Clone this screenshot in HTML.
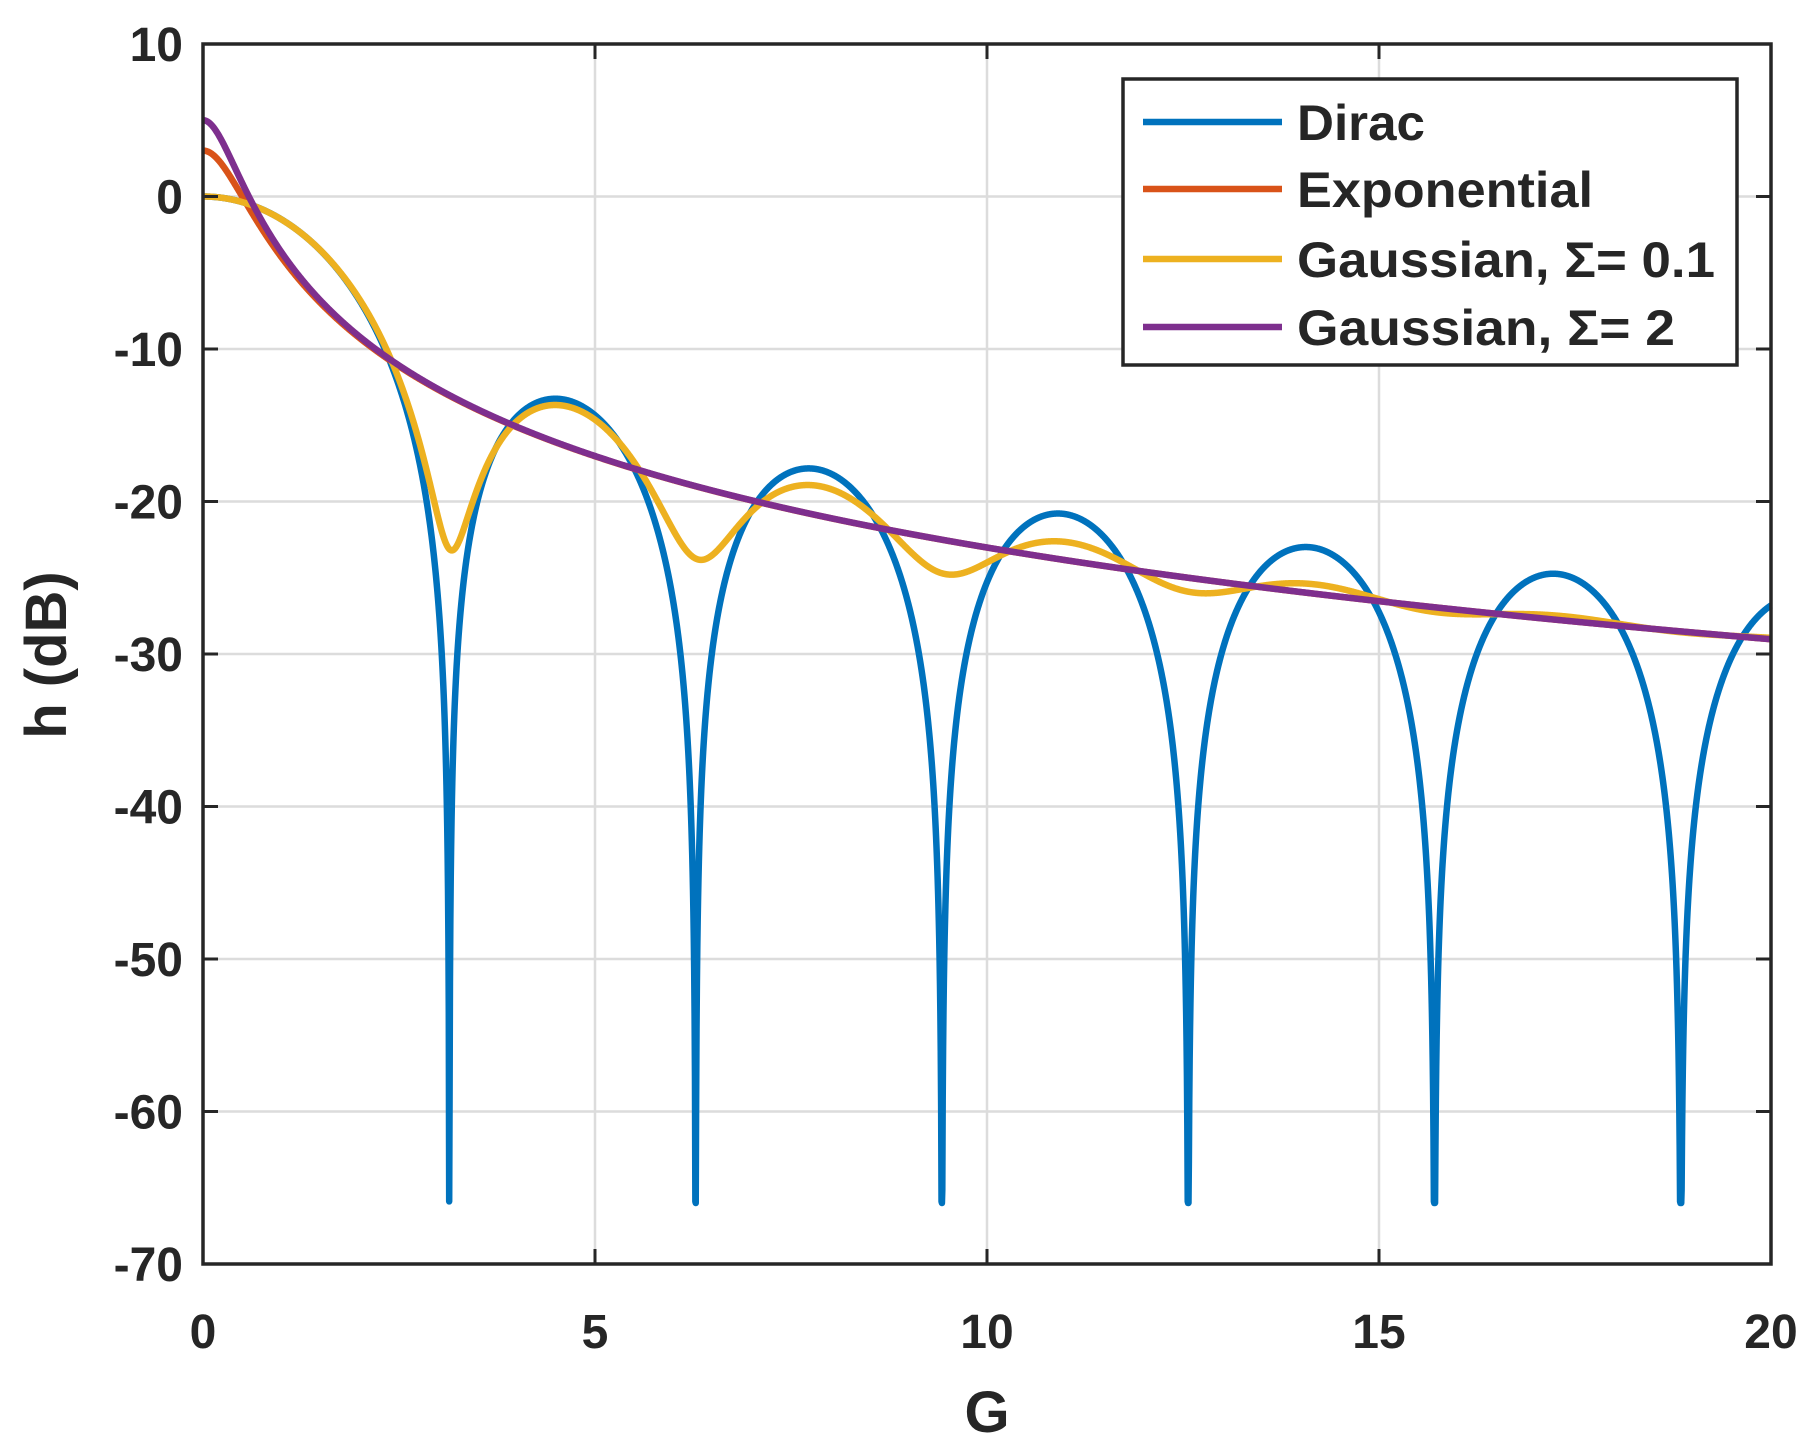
<!DOCTYPE html>
<html><head><meta charset="utf-8"><style>
html,body{margin:0;padding:0;background:#fff;}
svg{display:block;}
text{font-family:"Liberation Sans",sans-serif;font-weight:bold;fill:#262626;}
</style></head><body>
<svg id="s" width="1819" height="1456" viewBox="0 0 1819 1456" xmlns="http://www.w3.org/2000/svg">
<rect width="1819" height="1456" fill="#fff"/>
<g id="grid" stroke="#dcdcdc" stroke-width="2.5"></g>
<g id="curves" fill="none" stroke-width="6.5" stroke-linejoin="round"></g>
<g id="axes"></g>
<g id="labels" font-size="48"></g>
<text x="987" y="1432" font-size="58" text-anchor="middle">G</text>
<text transform="translate(66,655) rotate(-90)" font-size="58" text-anchor="middle">h (dB)</text>
<rect x="1123" y="79" width="614" height="286" fill="#fff" stroke="#262626" stroke-width="3.5"/>
<line x1="1143" y1="122" x2="1282" y2="122" stroke="#0072BD" stroke-width="6.5"/>
<line x1="1143" y1="189" x2="1282" y2="189" stroke="#D95319" stroke-width="6.5"/>
<line x1="1143" y1="259" x2="1282" y2="259" stroke="#EDB120" stroke-width="6.5"/>
<line x1="1143" y1="327" x2="1282" y2="327" stroke="#7E2F8E" stroke-width="6.5"/>
<g font-size="50" fill="#000">
<text x="1297" y="140" textLength="128" lengthAdjust="spacingAndGlyphs">Dirac</text>
<text x="1297" y="207" textLength="296" lengthAdjust="spacingAndGlyphs">Exponential</text>
<text x="1297" y="277" textLength="418" lengthAdjust="spacingAndGlyphs">Gaussian, Σ= 0.1</text>
<text x="1297" y="345" textLength="378" lengthAdjust="spacingAndGlyphs">Gaussian, Σ= 2</text>
</g>
</svg>
<script>
var X0=203,X1=1771,Y0=44,Y1=1264;
function px(x){return X0+(X1-X0)*x/20;}
function py(d){return Y0+(10-d)*(Y1-Y0)/80;}
var NS="http://www.w3.org/2000/svg";
function el(p,t,a){var e=document.createElementNS(NS,t);for(var k in a)e.setAttribute(k,a[k]);document.getElementById(p).appendChild(e);return e;}
for(var i=1;i<4;i++)el("grid","line",{x1:px(i*5),x2:px(i*5),y1:Y0,y2:Y1});
for(var d=0;d>-70;d-=10)el("grid","line",{x1:X0,x2:X1,y1:py(d),y2:py(d)});
function sinc2(x){if(Math.abs(x)<1e-9)return 1;var s=Math.sin(x)/x;return s*s;}
function db(p){return 10*Math.log10(p);}
var sig=0.07,gw=[],gu=[];
for(var k=-40;k<=40;k++){var u=k*sig/10;gu.push(1+u);gw.push(Math.exp(-u*u/(2*sig*sig)));}
var gs=gw.reduce(function(a,b){return a+b;},0);
var fns=[
 ["#0072BD",function(x){return Math.max(-66,db(sinc2(x)));}],
 ["#D95319",function(x){return db(2/(1+4*x*x));}],
 ["#EDB120",function(x){var s=0;for(var j=0;j<gu.length;j++)s+=gw[j]*sinc2(x*gu[j]);return db(s/gs);}],
 ["#7E2F8E",function(x){return db(1/(2*x*x+0.316));}]
];
fns.forEach(function(f){var d="";for(var i=0;i<=4000;i++){var x=i*0.005;d+=(i?"L":"M")+px(x).toFixed(2)+","+py(f[1](x)).toFixed(2);}
el("curves","path",{d:d,stroke:f[0]});});
el("axes","rect",{x:X0,y:Y0,width:X1-X0,height:Y1-Y0,fill:"none",stroke:"#262626","stroke-width":3.5});
for(var i=1;i<4;i++){el("axes","line",{x1:px(i*5),x2:px(i*5),y1:Y1,y2:Y1-15,stroke:"#262626","stroke-width":3});el("axes","line",{x1:px(i*5),x2:px(i*5),y1:Y0,y2:Y0+15,stroke:"#262626","stroke-width":3});}
for(var d=0;d>-70;d-=10){el("axes","line",{x1:X0,x2:X0+15,y1:py(d),y2:py(d),stroke:"#262626","stroke-width":3});el("axes","line",{x1:X1,x2:X1-15,y1:py(d),y2:py(d),stroke:"#262626","stroke-width":3});}
for(var d=10;d>=-70;d-=10){var t=el("labels","text",{x:183,y:py(d)+17,"text-anchor":"end"});t.textContent=d;}
for(var i=0;i<=4;i++){var t=el("labels","text",{x:px(i*5),y:1348,"text-anchor":"middle"});t.textContent=i*5;}
</script>
</body></html>
